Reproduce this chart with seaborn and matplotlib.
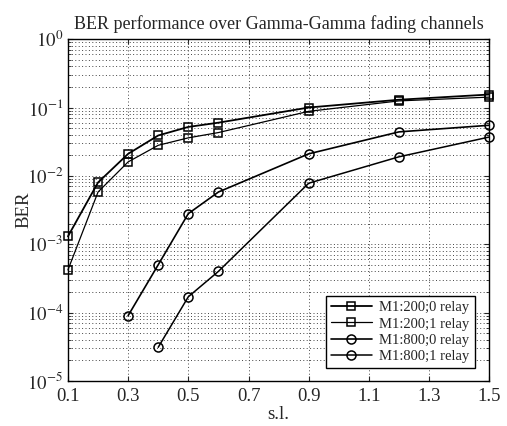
import numpy as np
import pandas as pd
import matplotlib
matplotlib.use("Agg")
import matplotlib.pyplot as plt
import seaborn as sns

# s.l. values and BER curves
sl_sq = [0.1, 0.2, 0.3, 0.4, 0.5, 0.6, 0.9, 1.2, 1.5]
ber_200_0 = [1.3e-3, 8.0e-3, 2.1e-2, 3.9e-2, 5.2e-2, 6.0e-2, 1.0e-1, 1.3e-1, 1.55e-1]
ber_200_1 = [4.2e-4, 5.8e-3, 1.6e-2, 2.8e-2, 3.6e-2, 4.3e-2, 8.8e-2, 1.25e-1, 1.42e-1]

sl_c0 = [0.3, 0.4, 0.5, 0.6, 0.9, 1.2, 1.5]
ber_800_0 = [9.0e-5, 5.0e-4, 2.8e-3, 5.8e-3, 2.1e-2, 4.4e-2, 5.5e-2]
sl_c1 = [0.4, 0.5, 0.6, 0.9, 1.2, 1.5]
ber_800_1 = [3.1e-5, 1.7e-4, 4.0e-4, 7.8e-3, 1.9e-2, 3.7e-2]

labels = ["M1:200;0 relay", "M1:200;1 relay", "M1:800;0 relay", "M1:800;1 relay"]

sns.set_style("ticks")
plt.rcParams['font.family'] = ['Liberation Serif', 'DejaVu Serif']
plt.rcParams['mathtext.fontset'] = 'stix'

fig = plt.figure(figsize=(5.07, 4.26), dpi=100)
ax = fig.add_axes([0.134, 0.106, 0.831, 0.802])

series = [
    (sl_sq, ber_200_0, 's', 1.3, 5.5),
    (sl_sq, ber_200_1, 's', 0.9, 5.5),
    (sl_c0, ber_800_0, 'o', 1.2, 6.5),
    (sl_c1, ber_800_1, 'o', 1.1, 6.5),
]
for (xs, ys, mk, lw, ms), lab in zip(series, labels):
    df = pd.DataFrame({'sl': xs, 'BER': ys})
    sns.lineplot(data=df, x='sl', y='BER', ax=ax, color='black', marker=mk,
                 markersize=ms, markerfacecolor='none', markeredgecolor='black',
                 markeredgewidth=1.1, linewidth=lw, label=lab, clip_on=False,
                 zorder=3)

ax.set_yscale('log')
ax.set_xlim(0.1, 1.5)
ax.set_ylim(1e-5, 1)
ax.set_xticks([0.1, 0.3, 0.5, 0.7, 0.9, 1.1, 1.3, 1.5])
ax.set_xticklabels(['0.1', '0.3', '0.5', '0.7', '0.9', '1.1', '1.3', '1.5'])
ax.set_yticks([1e-5, 1e-4, 1e-3, 1e-2, 1e-1, 1])
ax.set_yticklabels([r'$10^{-5}$', r'$10^{-4}$', r'$10^{-3}$', r'$10^{-2}$',
                    r'$10^{-1}$', r'$10^{0}$'])
ax.tick_params(axis='both', which='both', direction='in', labelsize=13.5,
               top=True, right=True)
ax.tick_params(axis='y', which='minor', length=2)
ax.tick_params(axis='x', pad=5)

dots = (0, (1, 2.5))
ax.grid(True, which='major', axis='x', linestyle=dots, color='#444444', linewidth=0.7)
ax.grid(True, which='both', axis='y', linestyle=dots, color='#444444', linewidth=0.7)
for sp in ax.spines.values():
    sp.set_color('black')
    sp.set_linewidth(1.0)

ax.set_title('BER performance over Gamma-Gamma fading channels', fontsize=13, pad=7)
ax.set_xlabel('s.l.', fontsize=13.5, labelpad=1)
ax.set_ylabel('BER', fontsize=13.5, labelpad=-4)

leg = ax.legend(loc='lower right', bbox_to_anchor=(0.965, 0.038), fontsize=10.5,
                frameon=True, fancybox=False, edgecolor='black', framealpha=1,
                handlelength=2.8, borderpad=0.35, labelspacing=0.2,
                handletextpad=0.5, borderaxespad=0)
leg.get_frame().set_linewidth(1.0)

fig.savefig('out.png', dpi=100)
